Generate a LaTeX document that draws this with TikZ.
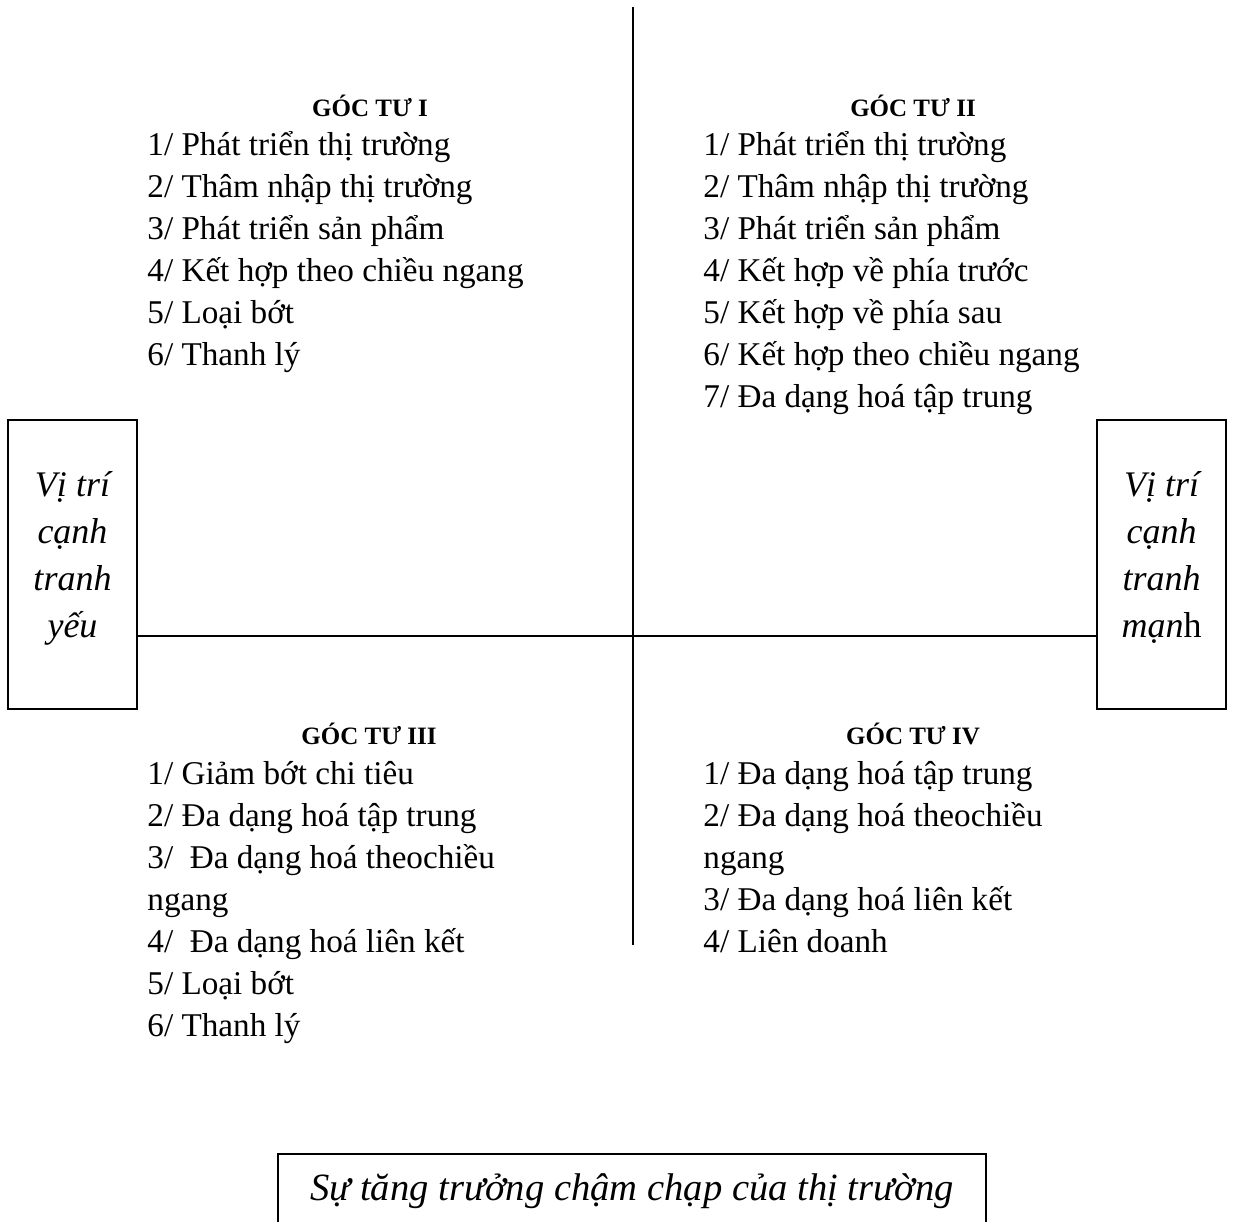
\documentclass[tikz,border=0pt]{standalone}
\usepackage{fontspec}
\setmainfont{Liberation Serif}
\begin{document}
\begin{tikzpicture}[x=0.5pt,y=-0.5pt,
  item/.style={anchor=base west, inner sep=0pt, font=\fontsize{16.6}{20}\selectfont},
  head/.style={anchor=base, inner sep=0pt, font=\fontsize{12.5}{14}\selectfont\bfseries},
  sidebox/.style={draw, line width=0.8pt, minimum width=64.5pt, minimum height=144.5pt, inner sep=0pt},
  sidetext/.style={anchor=base, inner sep=0pt, font=\fontsize{18}{20}\selectfont\itshape},
  axis/.style={line width=0.8pt}]
\useasboundingbox (0,0) rectangle (1233,1222);
\clip (0,0) rectangle (1233,1222);

% axes of the matrix
\coordinate (vtop) at (633,7);
\coordinate (vbot) at (633,945);
\coordinate (centre) at (633,636);
\draw[axis] (vtop) -- (vbot);

% competitive position boxes
\node[sidebox] (weak) at (72.5,564.5) {};
\node[sidebox] (strong) at (1161.5,564.5) {};
\draw[axis] (weak.east |- centre) -- (strong.west |- centre);

\foreach \t [count=\i] in {Vị trí, cạnh, tranh, yếu}
  \node[sidetext] (weak-\i) at (72.5,{449+47*\i}) {\t};
\foreach \t [count=\i] in {Vị trí, cạnh, tranh, mạn\textup{h}}
  \node[sidetext] (strong-\i) at (1161.5,{449+47*\i}) {\t};

% quadrant headings
\node[head] (h1) at (370,116) {GÓC TƯ I};
\node[head] (h2) at (913,116) {GÓC TƯ II};
\node[head] (h3) at (369,744) {GÓC TƯ III};
\node[head] (h4) at (913,744) {GÓC TƯ IV};

% quadrant I
\foreach \t [count=\i] in {1/ Phát triển thị trường, 2/ Thâm nhập thị trường,
    3/ Phát triển sản phẩm, 4/ Kết hợp theo chiều ngang, 5/ Loại bớt, 6/ Thanh lý}
  \node[item] (qa-\i) at (147,{113+42*\i}) {\t};

% quadrant II
\foreach \t [count=\i] in {1/ Phát triển thị trường, 2/ Thâm nhập thị trường,
    3/ Phát triển sản phẩm, 4/ Kết hợp về phía trước, 5/ Kết hợp về phía sau,
    6/ Kết hợp theo chiều ngang, 7/ Đa dạng hoá tập trung}
  \node[item] (qb-\i) at (703,{113+42*\i}) {\t};

% quadrant III
\foreach \t [count=\i] in {1/ Giảm bớt chi tiêu, 2/ Đa dạng hoá tập trung,
    3/\ \ Đa dạng hoá theochiều, ngang, 4/\ \ Đa dạng hoá liên kết,
    5/ Loại bớt, 6/ Thanh lý}
  \node[item] (qc-\i) at (147,{742+42*\i}) {\t};

% quadrant IV
\foreach \t [count=\i] in {1/ Đa dạng hoá tập trung, 2/ Đa dạng hoá theochiều,
    ngang, 3/ Đa dạng hoá liên kết, 4/ Liên doanh}
  \node[item] (qd-\i) at (703,{742+42*\i}) {\t};

% market growth box (its lower edge lies below the frame)
\node[draw, line width=0.8pt, anchor=north, minimum width=354pt, inner sep=0pt,
      font=\fontsize{19.3}{22}\selectfont\itshape] (growth) at (632,1153)
  {\rule[-31.5pt]{0pt}{55pt}Sự tăng trưởng chậm chạp của thị trường};
\end{tikzpicture}
\end{document}
